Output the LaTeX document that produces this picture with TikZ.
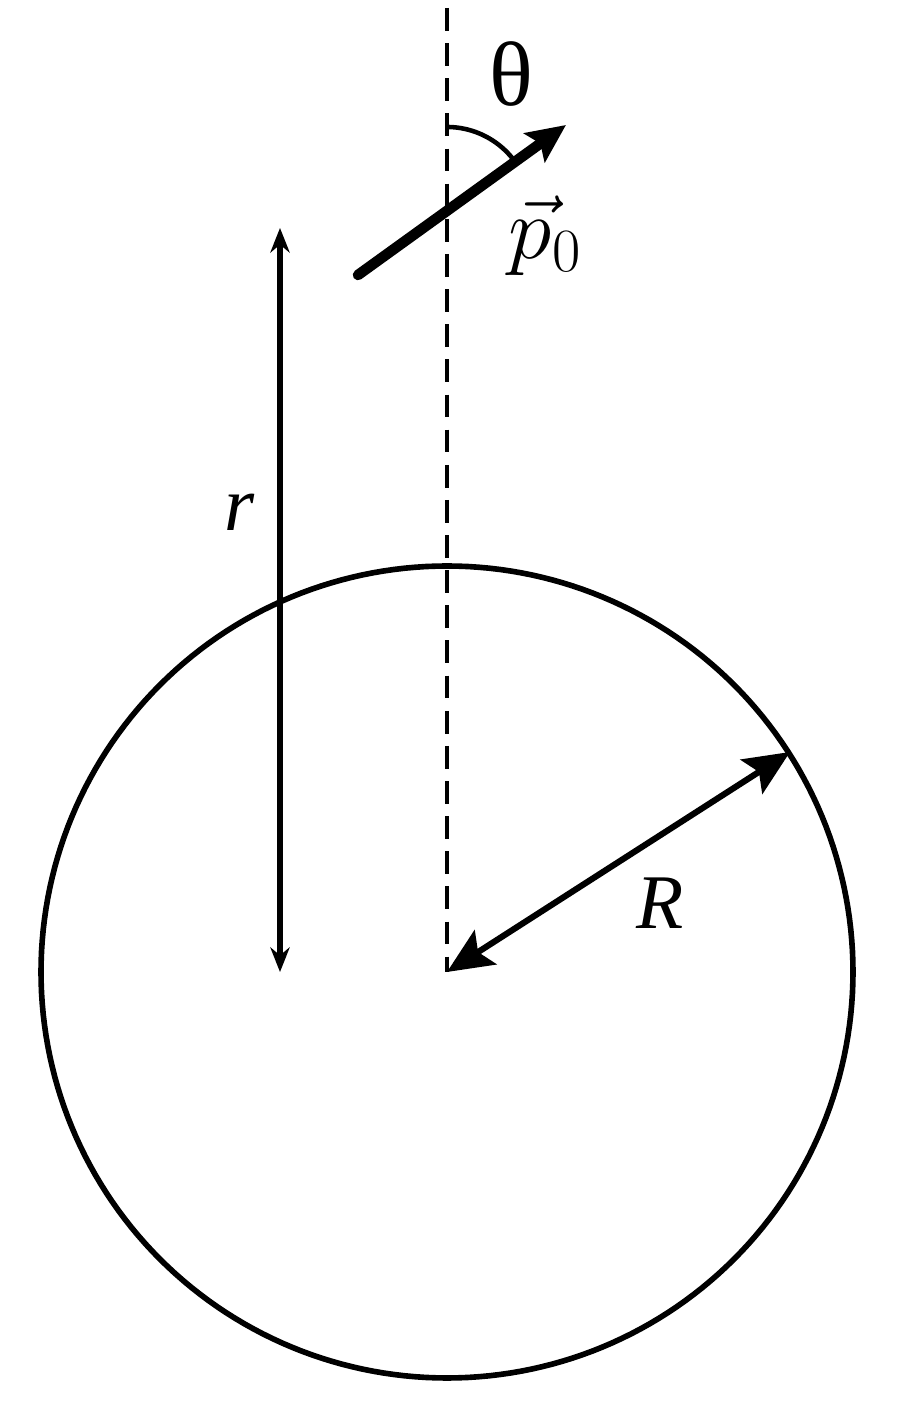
\RequirePackage{fix-cm}
\documentclass[tikz,border=0pt]{standalone}
\usepackage{fontspec}
\setmainfont{Liberation Serif}
\usetikzlibrary{arrows.meta, positioning, calc}

\begin{document}
\begin{tikzpicture}[
  x=0.02cm, y=0.02cm,
  axis/.style = {line width=2.5pt, dash pattern=on 13pt off 7pt},
  dipole/.style = {line width=6pt, line cap=round, -{Stealth[length=22pt, width=20pt, inset=4pt]}},
  dist/.style = {line width=3pt, {Stealth[length=14pt, width=11pt]}-{Stealth[length=14pt, width=11pt]}},
  radius/.style = {line width=3.5pt, {Stealth[length=26pt, width=23pt, inset=5pt]}-{Stealth[length=26pt, width=23pt, inset=5pt]}},
  lbl/.style = {font=\fontsize{44}{50}\selectfont, inner sep=0pt}
]
  \useasboundingbox (0,0) rectangle (900,1413);

  % Sphere
  \coordinate (centre) at (447,441);
  \draw[line width=3.2pt, line join=round, shift={(centre)}]
    plot[domain=0:360, samples=241] (\x:406) -- cycle;

  % Symmetry axis
  \coordinate (top) at (447,1405);
  \draw[axis] (top) -- (centre);

  % Dipole and its angle
  \coordinate (ptail) at (358,1138);
  \coordinate (phead) at (566,1288);
  \draw[dipole] (ptail) -- (phead);
  \coordinate (pivot) at (447,1202);
  \draw[line width=2.6pt, line join=round, shift={(pivot)}]
    plot[domain=90:35.4, samples=40] (\x:84);
  \node[lbl, font=\fontsize{52}{60}\selectfont] (theta) at (511,1339) {θ};
  \node[lbl, font=\fontsize{50}{60}\selectfont] (pzero) at (545,1177) {$\vec{p}_0$};

  % Distance r
  \coordinate (rtop) at (280,1185);
  \coordinate (rbot) at (280,441);
  \draw[dist] (rtop) -- (rbot);
  \node[lbl] (rlabel) at (240,901) {\textit{r}};

  % Radius R
  \coordinate (edge) at ($(centre)+(343,220)$);
  \draw[radius] (centre) -- (edge);
  \node[lbl] (Rlabel) at (660,510) {\textit{R}};
\end{tikzpicture}
\end{document}
